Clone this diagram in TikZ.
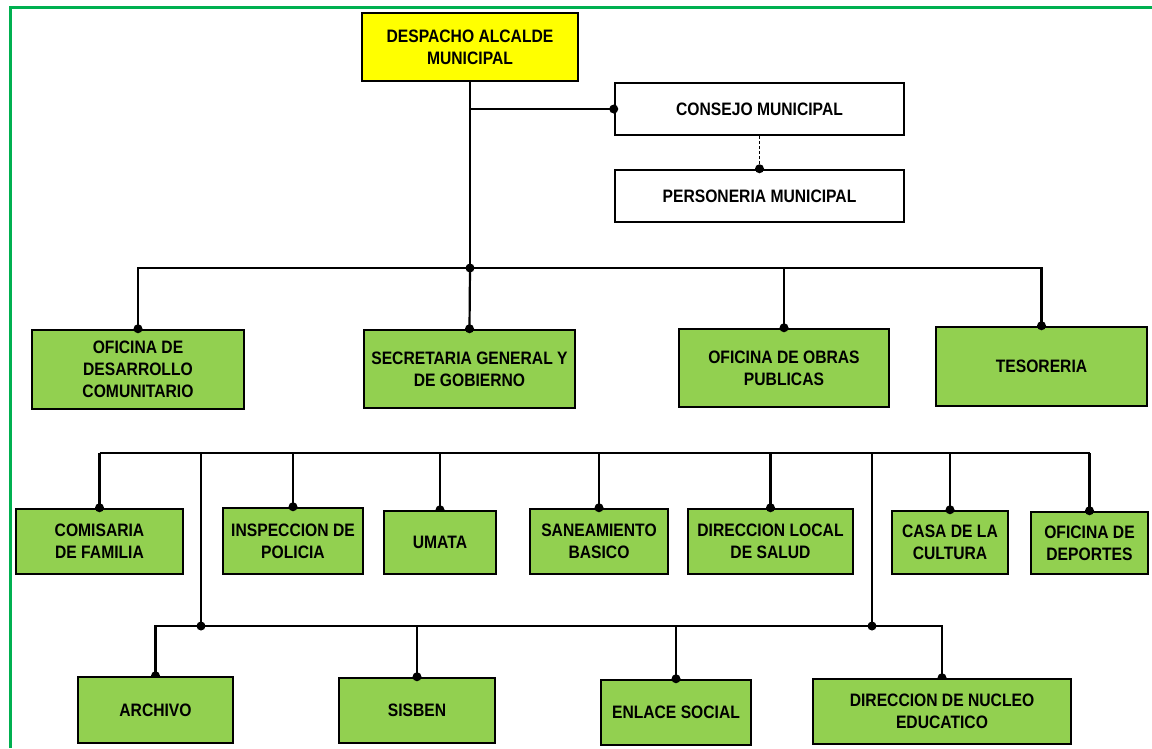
\documentclass[tikz,border=0pt]{standalone}
\usepackage{fontspec}
\setmainfont{Liberation Sans}[FakeStretch = 0.87]
\usetikzlibrary{backgrounds}

\begin{document}
\begin{tikzpicture}[x = 1pt, y = -1pt, line width = 2.2pt,
  caja/.style = {draw, line width = 2.5pt, fill = verde, align = center, inner sep = 0pt,
    font = \bfseries\fontsize{18}{22}\selectfont},
  medida/.style 2 args = {minimum width = #1, minimum height = #2}]
\definecolor{verde}{RGB}{146, 208, 80}
\definecolor{amarillo}{RGB}{255, 255, 0}
\definecolor{marco}{RGB}{0, 176, 80}

\useasboundingbox (0, 0) rectangle (1152, 748);
\draw[marco, line width = 3pt] (10.5, 748) -- (10.5, 7.5) -- (1152, 7.5);

\node[caja, fill = amarillo, medida = {216}{68}] (alcalde) at (470, 47) {DESPACHO ALCALDE\\MUNICIPAL};
\node[caja, fill = white, medida = {289}{52}] (consejo) at (759.5, 109) {CONSEJO MUNICIPAL};
\node[caja, fill = white, medida = {289}{52}] (personeria) at (759.5, 196) {PERSONERIA MUNICIPAL};

\node[caja, medida = {212}{79}] (desarrollo) at (138, 369.5) {OFICINA DE\\DESARROLLO\\COMUNITARIO};
\node[caja, medida = {211}{78}] (secretaria) at (469.5, 369) {SECRETARIA GENERAL Y\\DE GOBIERNO};
\node[caja, medida = {210}{78}] (obras) at (784, 368) {OFICINA DE OBRAS\\PUBLICAS};
\node[caja, medida = {211}{79}] (tesoreria) at (1041.5, 366.5) {TESORERIA};

\node[caja, medida = {167}{65}] (comisaria) at (99.5, 541.5) {COMISARIA\\DE FAMILIA};
\node[caja, medida = {140}{66}] (inspeccion) at (293, 541) {INSPECCION DE\\POLICIA};
\node[caja, medida = {112}{63}] (umata) at (440, 542.5) {UMATA};
\node[caja, medida = {138}{65}] (saneamiento) at (599, 541.5) {SANEAMIENTO\\BASICO};
\node[caja, medida = {165}{65}] (salud) at (770.5, 541.5) {DIRECCION LOCAL\\DE SALUD};
\node[caja, medida = {116}{63}] (cultura) at (950, 542.5) {CASA DE LA\\CULTURA};
\node[caja, medida = {117}{62}] (deportes) at (1089.5, 543) {OFICINA DE\\DEPORTES};

\node[caja, medida = {155}{66}] (archivo) at (155.5, 710) {ARCHIVO};
\node[caja, medida = {156}{65}] (sisben) at (417, 710.5) {SISBEN};
\node[caja, medida = {150}{65}] (enlace) at (676, 712.5) {ENLACE SOCIAL};
\node[caja, medida = {258}{65}] (nucleo) at (942, 711.5) {DIRECCION DE NUCLEO\\EDUCATICO};

\coordinate (bus1) at (470, 268);
\coordinate (bus2) at (0, 453);
\coordinate (j1) at (201, 626);
\coordinate (j2) at (872, 626);

\draw (alcalde.south) -- (bus1);
\draw (alcalde.south |- consejo.west) -- (consejo.west);
\draw[line width = 1.8pt, dash pattern = on 3pt off 2pt] (consejo.south) -- (personeria.north);

\draw (desarrollo.north) |- (bus1) -| (tesoreria.north);
\draw (bus1) -- (secretaria.north);
\draw (obras.north) -- (obras.north |- bus1);

\draw (comisaria.north |- bus2) -- (deportes.north |- bus2);
\foreach \caja in {comisaria, inspeccion, umata, saneamiento, salud, cultura, deportes}
  \draw (\caja.north) -- (\caja.north |- bus2);
\draw (j1 |- bus2) -- (j1);
\draw (j2 |- bus2) -- (j2);

\draw (archivo.north) |- (j1) -- (j2) -| (nucleo.north);
\draw (sisben.north) -- (sisben.north |- j1);
\draw (enlace.north) -- (enlace.north |- j1);

\foreach \punto in {consejo.west, personeria.north, bus1, j1, j2, desarrollo.north, secretaria.north,
  obras.north, tesoreria.north, comisaria.north, inspeccion.north, saneamiento.north, salud.north,
  cultura.north, deportes.north, sisben.north, enlace.north}
  \fill (\punto) circle (4.5);

\begin{pgfonlayer}{background}
\foreach \punto in {umata.north, archivo.north, nucleo.north} \fill (\punto) circle (4.5);
\end{pgfonlayer}
\end{tikzpicture}
\end{document}
